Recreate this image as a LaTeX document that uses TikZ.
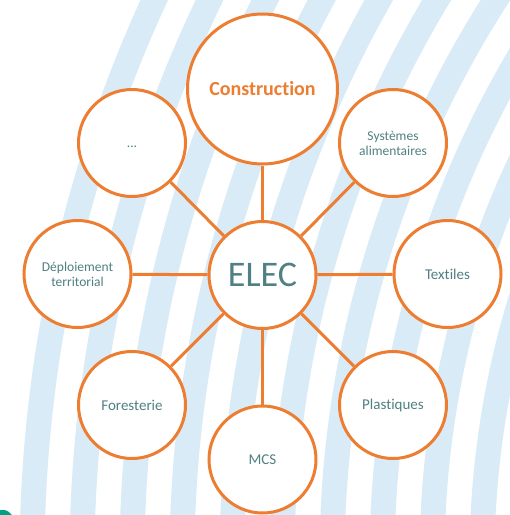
\documentclass[tikz,border=0pt]{standalone}
\usepackage{fontspec}
\setmainfont{Carlito}[Ligatures=NoCommon]
\usepackage{xcolor}
\usepackage{tikz}
\definecolor{elecorange}{RGB}{237,125,49}
\definecolor{electeal}{RGB}{80,128,130}
\definecolor{stripeblue}{RGB}{216,235,247}
\definecolor{cornergreen}{RGB}{0,160,130}

\begin{document}
\begin{tikzpicture}[x=1pt,y=-1pt,
	bubble/.style={shape=circle,draw=elecorange,line width=3pt,fill=white,minimum size=107pt,inner sep=0pt,text=electeal,align=center,font=\fontsize{15}{18}\selectfont},
	small/.style={font=\fontsize{13.5}{15}\selectfont},
	spoke/.style={draw=elecorange,line width=3pt}]
	\useasboundingbox (0,0) rectangle (510,515);
%	background stripes
	\begin{scope}
	\clip (0,0) rectangle (510,515);
	\foreach \r in {1340,1290,...,890} {
		\draw[stripeblue,line width=25pt] (1372,560) circle (\r pt);
	}
	\fill[cornergreen] (0,510) .. controls (7,510) .. (12,515) -- (0,515) -- cycle;
	\end{scope}
	\node (elec) at(262.5,275)[bubble,font=\fontsize{36}{40}\selectfont]{ELEC};
	\node (constr) at(262.5,89)[bubble,minimum size=150pt,text=elecorange,font=\bfseries\fontsize{20}{24}\selectfont]{Construction};
	\node (dots) at(132,143)[bubble,small]{\vphantom{F}...};
	\node (sys) at(393,143)[bubble,small]{Systèmes\\alimentaires};
	\node (deploy) at(77.5,274)[bubble,small]{Déploiement\\territorial};
	\node (textil) at(447.5,274)[bubble]{Textiles};
	\node (forest) at(132,405)[bubble]{Foresterie};
	\node (plast) at(393,405)[bubble]{Plastiques};
	\node (mcs) at(262.5,459.5)[bubble]{MCS};
	\foreach \n in {constr,dots,sys,deploy,textil,forest,plast,mcs} {
		\draw[spoke] (elec) -- (\n);
	}
\end{tikzpicture}
\end{document}
